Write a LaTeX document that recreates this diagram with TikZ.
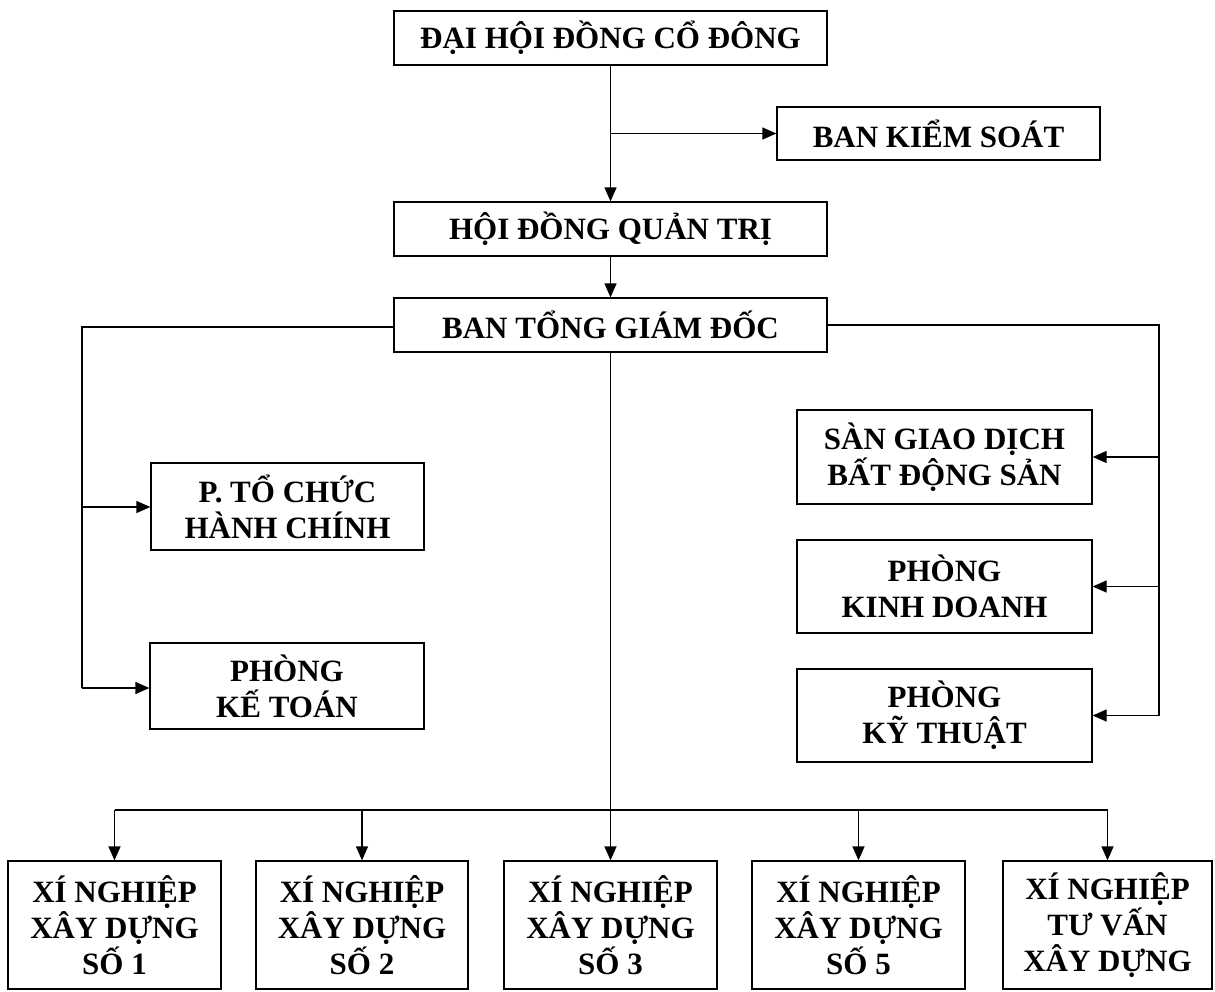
\documentclass[tikz,border=0pt]{standalone}
\usepackage{fontspec}
\setmainfont{Liberation Serif}
\usetikzlibrary{arrows.meta}
\begin{document}
\begin{tikzpicture}[x=1pt,y=-1pt,
  box/.style={draw,line width=1.3pt,inner sep=0pt,align=center,
    font=\fontsize{31}{36}\selectfont\bfseries},
  conn/.style={line width=1.3pt},
  arr/.style={line width=1.3pt,-{Triangle[length=14pt,width=12pt]}}]
\useasboundingbox (0,0) rectangle (1215,991);
% top chain
\node[box,minimum width=433,minimum height=54] (dh) at (610.5,38) {ĐẠI HỘI ĐỒNG CỔ ĐÔNG};
\node[box,minimum width=323,minimum height=53] (bks) at (938.5,133.5) {BAN KIỂM SOÁT};
\node[box,minimum width=433,minimum height=54] (hd) at (610.5,229) {HỘI ĐỒNG QUẢN TRỊ};
\node[box,minimum width=433,minimum height=54] (btg) at (610.5,325) {BAN TỔNG GIÁM ĐỐC};
% left
\node[box,minimum width=273,minimum height=87] (ptc) at (287.5,506.5) {P. TỔ CHỨC\\HÀNH CHÍNH};
\node[box,minimum width=274,minimum height=86] (kt) at (287,686) {PHÒNG\\KẾ TOÁN};
% right
\node[box,minimum width=295,minimum height=94] (sgd) at (944.5,457) {SÀN GIAO DỊCH\\BẤT ĐỘNG SẢN};
\node[box,minimum width=295,minimum height=93] (kd) at (944.5,586.5) {PHÒNG\\KINH DOANH};
\node[box,minimum width=295,minimum height=93] (kth) at (944.5,715.5) {PHÒNG\\KỸ THUẬT};
% bottom
\node[box,minimum width=213,minimum height=128] (x1) at (114.5,925) {XÍ NGHIỆP\\XÂY DỰNG\\SỐ 1};
\node[box,minimum width=212,minimum height=128] (x2) at (362,925) {XÍ NGHIỆP\\XÂY DỰNG\\SỐ 2};
\node[box,minimum width=213,minimum height=128] (x3) at (610.5,925) {XÍ NGHIỆP\\XÂY DỰNG\\SỐ 3};
\node[box,minimum width=213,minimum height=128] (x5) at (858.5,925) {XÍ NGHIỆP\\XÂY DỰNG\\SỐ 5};
\node[box,minimum width=209,minimum height=128] (xtv) at (1107.5,925) {XÍ NGHIỆP\\TƯ VẤN\\XÂY DỰNG};
% junction coordinates
\coordinate (j1) at (dh.south |- bks.west);
\coordinate (lt) at (82,327);
\coordinate (lb) at (82,688);
\coordinate (lm) at (82,507);
\coordinate (rt) at (1159,325);
\coordinate (rb) at (1159,715.5);
\coordinate (bus) at (btg.south |- 0,810);
\coordinate (bl) at (x1.north |- 0,810);
\coordinate (br) at (xtv.north |- 0,810);
% connectors
\draw[arr] (dh.south) -- (hd.north);
\draw[arr] (j1) -- (bks.west);
\draw[arr] (hd.south) -- (btg.north);
\draw[conn] (btg.west |- lt) -- (lt) -- (lb);
\draw[arr] (lb) -- (kt.west |- lb);
\draw[arr] (lm) -- (ptc.west |- lm);
\draw[conn] (btg.east |- rt) -- (rt) -- (rb);
\draw[arr] (rb) -- (kth.east);
\draw[arr] (rt |- sgd.east) -- (sgd.east);
\draw[arr] (rt |- kd.east) -- (kd.east);
\draw[line width=0.9pt] (btg.south) -- (bus);
\draw[conn] (bl) -- (br);
\draw[arr] (bl) -- (x1.north);
\draw[arr] (x2.north |- bus) -- (x2.north);
\draw[arr] (bus) -- (x3.north);
\draw[arr] (x5.north |- bus) -- (x5.north);
\draw[arr] (br) -- (xtv.north);
\end{tikzpicture}
\end{document}
